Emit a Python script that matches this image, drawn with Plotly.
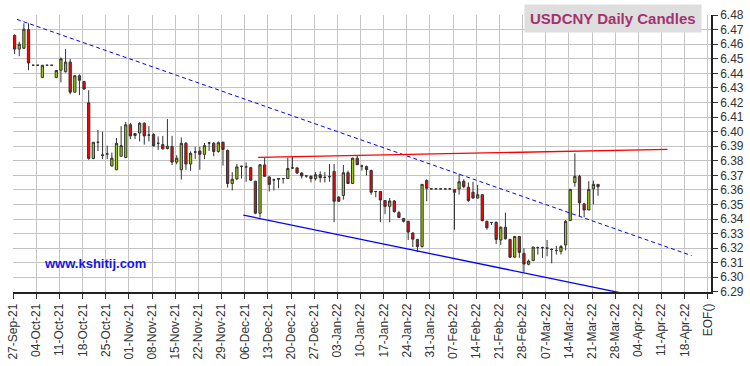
import plotly.graph_objects as go

# Trading-day index (weekdays from 27-Sep-21 to 22-Mar-22)
day_index = list(range(127))

opens = [6.4660, 6.4567, 6.4573, 6.4700, 6.4456, 6.4456, 6.4371, 6.4456, 6.4456, 6.4371,
         6.4422, 6.4411, 6.4478, 6.4271, 6.4384, 6.4344, 6.4198, 6.3816, 6.3927, 6.3836,
         6.3847, 6.3764, 6.3738, 6.3831, 6.3822, 6.4047, 6.3973, 6.3991, 6.4058, 6.3976,
         6.3980, 6.3920, 6.3911, 6.3884, 6.3898, 6.3791, 6.3738, 6.3920, 6.3778, 6.3860,
         6.3867, 6.3844, 6.3922, 6.3920, 6.3864, 6.3927, 6.3871, 6.3644, 6.3676, 6.3762,
         6.3758, 6.3753, 6.3660, 6.3440, 6.3771, 6.3689, 6.3669, 6.3673, 6.3678, 6.3678,
         6.3751, 6.3751, 6.3716, 6.3696, 6.3693, 6.3678, 6.3704, 6.3686, 6.3691, 6.3727,
         6.3551, 6.3562, 6.3718, 6.3644, 6.3818, 6.3764, 6.3760, 6.3733, 6.3589, 6.3589,
         6.3527, 6.3487, 6.3524, 6.3444, 6.3404, 6.3384, 6.3304, 6.3260, 6.3211, 6.3664,
         6.3607, 6.3607, 6.3607, 6.3607, 6.3607, 6.3602, 6.3607, 6.3660, 6.3618, 6.3584,
         6.3544, 6.3567, 6.3384, 6.3376, 6.3378, 6.3256, 6.3344, 6.3260, 6.3138, 6.3280,
         6.3164, 6.3089, 6.3115, 6.3204, 6.3204, 6.3200, 6.3191, 6.3184, 6.3178, 6.3222,
         6.3389, 6.3651, 6.3693, 6.3504, 6.3462, 6.3607, 6.3638]
highs = [6.4669, 6.4618, 6.4744, 6.4744, 6.4456, 6.4456, 6.4456, 6.4456, 6.4456, 6.4420,
         6.4509, 6.4567, 6.4500, 6.4389, 6.4393, 6.4349, 6.4284, 6.3927, 6.4011, 6.4000,
         6.3904, 6.3856, 6.3956, 6.4038, 6.4067, 6.4060, 6.3989, 6.4064, 6.4064, 6.4038,
         6.3989, 6.3967, 6.3971, 6.4087, 6.3971, 6.3838, 6.3960, 6.3929, 6.3864, 6.3896,
         6.3896, 6.3922, 6.3929, 6.3929, 6.3933, 6.3931, 6.3878, 6.3722, 6.3778, 6.3767,
         6.3789, 6.3758, 6.3660, 6.3773, 6.3822, 6.3693, 6.3678, 6.3678, 6.3682, 6.3822,
         6.3827, 6.3756, 6.3722, 6.3700, 6.3700, 6.3722, 6.3727, 6.3722, 6.3778, 6.3778,
         6.3556, 6.3771, 6.3733, 6.3822, 6.3838, 6.3773, 6.3767, 6.3740, 6.3593, 6.3593,
         6.3531, 6.3544, 6.3531, 6.3456, 6.3407, 6.3389, 6.3309, 6.3264, 6.3638, 6.3673,
         6.3607, 6.3607, 6.3607, 6.3607, 6.3607, 6.3607, 6.3711, 6.3673, 6.3651, 6.3656,
         6.3633, 6.3571, 6.3389, 6.3380, 6.3382, 6.3349, 6.3444, 6.3264, 6.3284, 6.3284,
         6.3200, 6.3122, 6.3211, 6.3211, 6.3211, 6.3256, 6.3200, 6.3216, 6.3222, 6.3393,
         6.3607, 6.3851, 6.3704, 6.3511, 6.3660, 6.3664, 6.3638]
lows = [6.4533, 6.4518, 6.4567, 6.4422, 6.4456, 6.4456, 6.4371, 6.4456, 6.4456, 6.4371,
        6.4338, 6.4407, 6.4256, 6.4271, 6.4251, 6.4287, 6.3807, 6.3811, 6.3867, 6.3811,
        6.3811, 6.3762, 6.3738, 6.3831, 6.3818, 6.3949, 6.3949, 6.3933, 6.3911, 6.3933,
        6.3900, 6.3873, 6.3878, 6.3878, 6.3771, 6.3776, 6.3671, 6.3738, 6.3731, 6.3811,
        6.3738, 6.3811, 6.3867, 6.3831, 6.3856, 6.3767, 6.3616, 6.3596, 6.3667, 6.3678,
        6.3656, 6.3662, 6.3433, 6.3410, 6.3693, 6.3589, 6.3596, 6.3611, 6.3644, 6.3678,
        6.3744, 6.3711, 6.3678, 6.3684, 6.3651, 6.3664, 6.3651, 6.3651, 6.3656, 6.3378,
        6.3522, 6.3533, 6.3644, 6.3644, 6.3771, 6.3733, 6.3700, 6.3567, 6.3549, 6.3378,
        6.3433, 6.3378, 6.3444, 6.3407, 6.3378, 6.3256, 6.3207, 6.3173, 6.3204, 6.3522,
        6.3607, 6.3607, 6.3607, 6.3607, 6.3607, 6.3327, 6.3567, 6.3611, 6.3518, 6.3540,
        6.3540, 6.3384, 6.3327, 6.3360, 6.3229, 6.3222, 6.3260, 6.3133, 6.3133, 6.3133,
        6.3033, 6.3082, 6.3111, 6.3156, 6.3133, 6.3144, 6.3096, 6.3156, 6.3156, 6.3184,
        6.3389, 6.3622, 6.3420, 6.3411, 6.3462, 6.3500, 6.3560]
closes = [6.4567, 6.4600, 6.4704, 6.4471, 6.4456, 6.4456, 6.4456, 6.4456, 6.4456, 6.4420,
          6.4500, 6.4478, 6.4271, 6.4384, 6.4353, 6.4293, 6.3816, 6.3927, 6.3927, 6.3840,
          6.3847, 6.3818, 6.3920, 6.3904, 6.4047, 6.3971, 6.3987, 6.4058, 6.3971, 6.3976,
          6.3902, 6.3920, 6.3882, 6.3900, 6.3791, 6.3818, 6.3920, 6.3778, 6.3851, 6.3860,
          6.3844, 6.3904, 6.3922, 6.3864, 6.3924, 6.3878, 6.3644, 6.3673, 6.3758, 6.3762,
          6.3758, 6.3667, 6.3440, 6.3773, 6.3693, 6.3638, 6.3669, 6.3678, 6.3678, 6.3747,
          6.3751, 6.3716, 6.3696, 6.3696, 6.3678, 6.3704, 6.3684, 6.3686, 6.3691, 6.3522,
          6.3522, 6.3718, 6.3644, 6.3818, 6.3773, 6.3764, 6.3740, 6.3584, 6.3589, 6.3531,
          6.3487, 6.3524, 6.3451, 6.3411, 6.3384, 6.3311, 6.3262, 6.3211, 6.3638, 6.3611,
          6.3607, 6.3607, 6.3607, 6.3607, 6.3607, 6.3584, 6.3656, 6.3622, 6.3527, 6.3544,
          6.3567, 6.3389, 6.3340, 6.3376, 6.3260, 6.3344, 6.3264, 6.3138, 6.3280, 6.3171,
          6.3091, 6.3111, 6.3207, 6.3204, 6.3204, 6.3200, 6.3191, 6.3184, 6.3211, 6.3384,
          6.3604, 6.3693, 6.3511, 6.3462, 6.3604, 6.3638, 6.3622]

# Weekly tick labels (Mondays) plus end marker
week_labels = ["27-Sep-21", "04-Oct-21", "11-Oct-21", "18-Oct-21", "25-Oct-21", "01-Nov-21",
               "08-Nov-21", "15-Nov-21", "22-Nov-21", "29-Nov-21", "06-Dec-21", "13-Dec-21",
               "20-Dec-21", "27-Dec-21", "03-Jan-22", "10-Jan-22", "17-Jan-22", "24-Jan-22",
               "31-Jan-22", "07-Feb-22", "14-Feb-22", "21-Feb-22", "28-Feb-22", "07-Mar-22",
               "14-Mar-22", "21-Mar-22", "28-Mar-22", "04-Apr-22", "11-Apr-22", "18-Apr-22"]
end_label = "EOF()"
y_ticks = [6.29, 6.30, 6.31, 6.32, 6.33, 6.34, 6.35, 6.36, 6.37, 6.38, 6.39, 6.40,
           6.41, 6.42, 6.43, 6.44, 6.45, 6.46, 6.47, 6.48]

# Trendlines (day index, price)
upper_trend_x = [0.5, 146.2]
upper_trend_y = [6.4771, 6.3149]
resist_x = [52.6, 141.0]
resist_y = [6.3824, 6.3878]
lower_trend_x = [49.4, 140.1]
lower_trend_y = [6.3427, 6.2833]

tick_shift = -0.3
tickvals = [5 * k + tick_shift for k in range(len(week_labels))] + [150 + tick_shift]
ticktext = week_labels + [end_label]

fig = go.Figure()
fig.add_trace(go.Candlestick(
    x=day_index, open=opens, high=highs, low=lows, close=closes,
    increasing=dict(fillcolor="#99cc00", line=dict(color="#333333", width=1)),
    decreasing=dict(fillcolor="#ff0000", line=dict(color="#333333", width=1)),
    whiskerwidth=0, showlegend=False, hoverinfo="skip"))
fig.add_trace(go.Scatter(x=upper_trend_x, y=upper_trend_y, mode="lines",
                         line=dict(color="#0000ff", width=1, dash="4px,3px"),
                         showlegend=False, hoverinfo="skip"))
fig.add_trace(go.Scatter(x=resist_x, y=resist_y, mode="lines",
                         line=dict(color="#ff0000", width=1.3),
                         showlegend=False, hoverinfo="skip"))
fig.add_trace(go.Scatter(x=lower_trend_x, y=lower_trend_y, mode="lines",
                         line=dict(color="#0000ff", width=1.3),
                         showlegend=False, hoverinfo="skip"))

fig.update_layout(
    width=750, height=366,
    margin=dict(l=6, r=35, t=15, b=66),
    paper_bgcolor="white", plot_bgcolor="white",
    font=dict(family="Liberation Sans, Arial, sans-serif", size=12, color="#333333"),
    boxgap=0.3,
    xaxis=dict(range=[-0.35, 150.4], tickmode="array", tickvals=tickvals, ticktext=ticktext,
               tickangle=-90, ticks="outside", ticklen=5, tickcolor="#333333",
               ticklabeloverflow="allow",
               showline=True, linecolor="#222222", linewidth=1.5,
               showgrid=True, gridcolor="#c4c4c4", gridwidth=1, zeroline=False,
               rangeslider=dict(visible=False), fixedrange=True),
    yaxis=dict(range=[6.2899, 6.4801], side="right", tickmode="array", tickvals=y_ticks,
               tickformat=".2f", ticks="outside", ticklen=5, tickcolor="#333333",
               ticklabeloverflow="allow",
               showline=True, linecolor="#222222", linewidth=1.5,
               showgrid=True, gridcolor="#c4c4c4", gridwidth=1, zeroline=False,
               fixedrange=True),
    annotations=[
        dict(text="<b>USDCNY Daily Candles</b>", xref="paper", yref="paper",
             x=0.86, y=0.986, xanchor="center", yanchor="middle", showarrow=False,
             font=dict(size=15, color="#a3336e", family="Liberation Sans, Arial, sans-serif"),
             bgcolor="#dedede", borderpad=5),
        dict(text="<b>www.kshitij.com</b>", xref="paper", yref="paper",
             x=0.118, y=0.103, xanchor="center", yanchor="middle", showarrow=False,
             font=dict(size=13, color="#1414ee", family="Liberation Sans, Arial, sans-serif")),
    ],
)

fig.write_html("out.html", config={"displayModeBar": False},
               post_script="document.body.style.margin='0';document.body.style.padding='0';")
